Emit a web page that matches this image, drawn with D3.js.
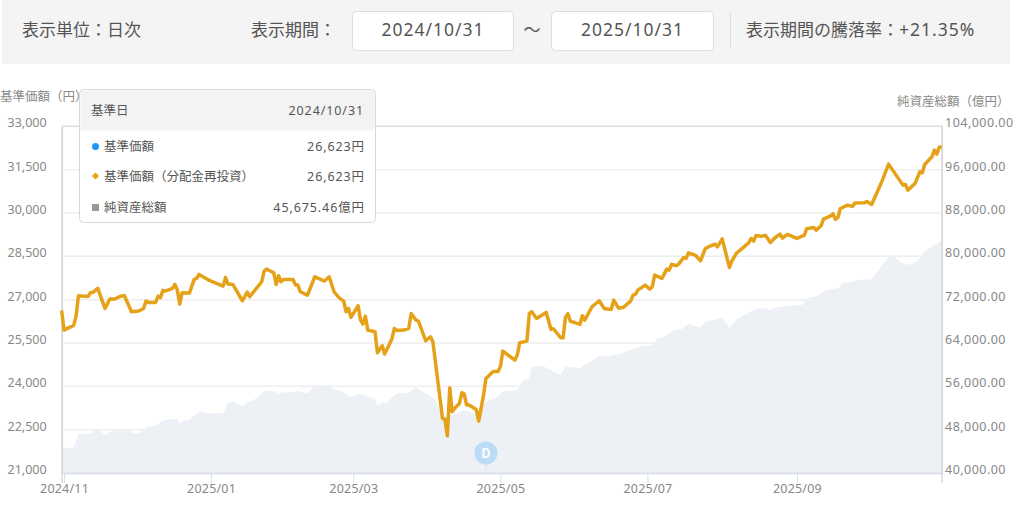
<!DOCTYPE html>
<html><head><meta charset="utf-8">
<script src="https://cdn.jsdelivr.net/npm/d3@7/dist/d3.min.js"></script>
<style>
html,body{margin:0;padding:0;background:#fff;overflow:hidden}
text{font-family:"Noto Sans CJK JP","Noto Sans",sans-serif}
</style></head><body>
<svg id="c" width="1024" height="507"></svg>
<script>
const startDate = "2024-10-31";
const endDate = "2025-10-31";
const priceTicks = [21000,22500,24000,25500,27000,28500,30000,31500,33000];
const assetTicks = [40000,48000,56000,64000,72000,80000,88000,96000,104000];
const monthTicks = ["2024-11-01","2025-01-01","2025-03-01","2025-05-01","2025-07-01","2025-09-01"];
const priceDays = [0,1,5,6,7,11,12,13,15,18,20,22,24,26,29,32,34,35,36,39,40,41,42,43,46,47,48,49,50,53,55,56,57,61,67,68,69,71,75,77,78,83,84,85,88,89,90,91,92,96,97,98,99,102,105,109,111,113,115,117,118,119,120,123,124,125,126,127,130,131,133,134,137,138,139,142,144,145,147,148,151,153,154,156,158,159,160,161,162,163,165,166,167,168,169,172,173,175,176,179,181,182,183,188,189,190,193,194,195,197,201,203,204,207,208,209,210,211,215,216,217,220,223,225,228,229,231,233,236,237,238,239,242,244,245,246,249,251,252,253,255,256,258,259,260,263,265,267,269,271,272,274,277,278,280,281,285,286,287,288,290,292,294,296,298,299,301,305,307,308,309,312,313,315,316,319,320,321,322,323,326,328,329,333,334,336,340,343,349,350,351,354,356,357,358,361,362,363,364,365];
const priceValues = [26623,25946,26108,26431,27135,27112,27250,27250,27389,26696,27019,27019,27100,27146,26581,26604,26696,26950,26904,26904,27123,27066,27320,27296,27389,27527,27331,26846,27239,27227,27700,27735,27873,27677,27469,27770,27539,27527,26962,27262,27100,27620,27989,28058,27931,27527,27827,27620,27700,27700,27504,27504,27273,27158,27793,27643,27793,27273,27070,26950,26581,26696,26385,26789,26292,26154,26431,25946,25889,25161,25404,25115,25635,26004,25935,25946,26004,26523,26292,26258,25577,25715,25542,24215,22888,22853,22288,23950,23119,23234,23407,23777,23731,23350,23350,23200,22796,23696,24273,24515,24515,24677,25219,24908,25081,25508,25565,26523,26581,26350,26558,25969,25992,25681,25681,26385,26512,26258,26142,26442,26292,26754,26962,26696,26662,26985,26708,26731,26950,27158,27181,27331,27504,27366,27446,27850,27735,28058,28023,28220,28173,28240,28460,28425,28621,28529,28344,28771,28852,28921,28829,29106,28114,28333,28621,28679,28967,29117,29025,29221,29198,29221,28979,29152,29268,29129,29256,29117,29198,29221,29452,29498,29406,29556,29787,29902,29971,29775,29845,30156,30271,30225,30341,30352,30398,30295,31045,31691,30964,30987,30791,31022,31426,31391,31679,31945,32176,32037,32268,32307];
const assetDays = [0,1,5,7,12,15,18,21,28,30,33,35,39,42,48,49,51,53,57,61,67,69,71,75,77,81,84,89,90,91,96,98,102,105,109,111,113,115,118,120,123,126,127,130,131,133,135,138,140,144,147,149,153,155,157,159,162,164,167,169,172,174,176,180,183,189,191,194,195,200,204,207,209,215,223,226,230,236,240,245,247,250,254,257,260,265,267,271,274,277,280,284,288,292,294,297,301,307,310,313,317,322,324,328,331,336,340,343,345,349,352,355,358,362,365];
const assetValues = [45675,44575,44759,47219,47342,48142,47035,47834,47834,47342,47465,48572,48695,49679,50110,49187,49802,49802,51340,51032,51032,52877,53307,52262,52999,53800,55214,55030,54537,54845,54968,55152,54722,56260,56075,56321,55460,55337,54599,53984,54599,54414,54107,53615,52446,53000,52877,54414,54722,54845,55829,55214,54107,53492,51647,50417,50724,51032,51647,51340,50724,51955,53184,53800,55030,55337,56874,57489,59642,59642,58720,58105,59642,59335,61610,61487,61795,62717,63455,63640,64870,65177,66284,66530,67464,66910,67956,68263,68755,66725,68386,69370,70293,70416,70046,70600,70846,71030,72383,72568,73798,74105,75028,75335,75643,75766,78103,79948,79948,78718,78410,79148,80870,82100,82838];
const tipRows = [["基準価額","26,623円"],["基準価額（分配金再投資）","26,623円"],["純資産総額","45,675.46億円"]];

const L=61.6,R=941.6,T=126.3,B=473;
const svg=d3.select("#c");
const x=d3.scaleUtc().domain([new Date(startDate),new Date(endDate)]).range([L,R]);
const yP=d3.scaleLinear().domain([21000,33000]).range([B,T]);
const yA=d3.scaleLinear().domain([40000,104000]).range([B,T]);
const day=d=>d3.utcDay.offset(new Date(startDate),d);
const grey="#555";
const latin='"Noto Sans","Noto Sans CJK JP",sans-serif';

// header band
svg.append("rect").attr("x",2).attr("y",0).attr("width",1008).attr("height",64).attr("fill","#f4f4f4");
const box=(bx,w)=>svg.append("rect").attr("x",bx+.5).attr("y",11.5).attr("width",w).attr("height",39).attr("rx",4).attr("fill","#fff").attr("stroke","#ddd");
box(352,161);box(551,162);
svg.append("line").attr("x1",730.5).attr("x2",730.5).attr("y1",13).attr("y2",48).attr("stroke","#ddd");
const hd=(t,px,anc)=>svg.append("text").attr("x",px).attr("y",36).attr("font-size",17).attr("fill",grey).attr("text-anchor",anc||"start").text(t);
const hdNum=(t,px,py,anc)=>svg.append("text").attr("x",px).attr("y",py||36).attr("font-size",17.5).attr("letter-spacing",1).style("font-family",latin).attr("fill",grey).attr("text-anchor",anc||"start").text(t);
hd("表示単位：日次",22);hd("表示期間：",251);
hdNum("2024/10/31",433,36,"middle");
hd("～",532,"middle");
hdNum("2025/10/31",632.5,36,"middle");
hd("表示期間の騰落率：",746);
hdNum("+21.35%",899,36);

// grid
svg.append("g").selectAll("line").data(priceTicks.slice(1,-1)).join("line")
 .attr("x1",L).attr("x2",R).attr("y1",d=>yP(d)).attr("y2",d=>yP(d)).attr("stroke","#eeeeee").attr("stroke-width",1.5);
svg.append("line").attr("x1",L).attr("x2",R+1).attr("y1",T).attr("y2",T).attr("stroke","#dedede").attr("stroke-width",1.5);

// area
const assetPts=assetDays.map((d,i)=>[day(d),assetValues[i]]);
svg.append("path").datum(assetPts).attr("fill","#edf0f5")
 .attr("d",d3.area().x(d=>x(d[0])).y0(B).y1(d=>yA(d[1])));

// axes
const axL=svg.append("g").attr("transform",`translate(${L},0)`).call(d3.axisLeft(yP).tickValues(priceTicks).tickFormat(d3.format(",")).tickSize(0));
const axR=svg.append("g").attr("transform",`translate(${R},0)`).call(d3.axisRight(yA).tickValues(assetTicks).tickFormat(d3.format(",.2f")).tickSize(0));
const axB=svg.append("g").attr("transform",`translate(0,${B})`).call(d3.axisBottom(x).tickValues(monthTicks.map(s=>new Date(s))).tickFormat(d3.utcFormat("%Y/%m")).tickSize(10));
axL.select(".domain").attr("stroke","#d8dbe2").attr("stroke-width",2);
axR.select(".domain").attr("stroke","#dcdcdc").attr("stroke-width",2);
axB.select(".domain").attr("stroke","#d5dbe8").attr("stroke-width",1.5);
axB.selectAll(".tick line").attr("stroke","#d5e0ee");
axL.selectAll("text").attr("x",-15).attr("dy","0.03em").attr("font-size",12.5).attr("fill","#888");
axR.selectAll("text").attr("x",3.5).attr("dy","0.03em").attr("font-size",12.5).attr("letter-spacing",0.45).attr("fill","#888");
axB.selectAll("text").attr("y",11.5).attr("font-size",12.5).attr("letter-spacing",0.2).attr("fill","#888");
[axL,axR,axB].forEach(a=>a.selectAll("text").style("font-family",latin));
svg.append("text").attr("x",0).attr("y",101).attr("font-size",12.5).attr("fill","#888").text("基準価額（円）");
svg.append("text").attr("x",897).attr("y",106).attr("font-size",12.5).attr("fill","#888").text("純資産総額（億円）");

// D flag
const dDay=day(176);
svg.append("line").attr("x1",x(dDay)).attr("x2",x(dDay)).attr("y1",464).attr("y2",B).attr("stroke","#bcdcf5").attr("stroke-dasharray","1 1");
svg.append("circle").attr("cx",x(dDay)).attr("cy",453).attr("r",11.5).attr("fill","#bcdcf5");
svg.append("text").attr("x",x(dDay)).attr("y",457.5).attr("text-anchor","middle").attr("font-size",13).attr("font-weight",700).attr("fill","#fff").text("D");

// price line
const pricePts=priceDays.map((d,i)=>[day(d),priceValues[i]]);
svg.append("path").datum(pricePts).attr("fill","none").attr("stroke","#e5a117").attr("stroke-width",3.5).attr("stroke-linejoin","round")
 .attr("d",d3.line().x(d=>x(d[0])).y(d=>yP(d[1])));

// tooltip
const tg=svg.append("g");
tg.append("rect").attr("x",79.5).attr("y",89.5).attr("width",296).attr("height",133).attr("rx",4).attr("fill","#fff").attr("stroke","#d8d8d8");
tg.append("path").attr("d","M80.5 130.5V93.5a3 3 0 0 1 3-3H371.5a3 3 0 0 1 3 3V130.5Z").attr("fill","#f3f3f3");
const tt=(t,px,py,anc)=>tg.append("text").attr("x",px).attr("y",py).attr("font-size",12.5).attr("fill",grey).attr("text-anchor",anc||"start").text(t);
const tn=(t,px,py)=>tg.append("text").attr("x",px).attr("y",py).attr("font-size",12.5).attr("letter-spacing",0.9).attr("fill",grey).attr("text-anchor","end").style("font-family",latin).text(t);
tt("基準日",91,115);tn("2024/10/31",364,115);
const rowY=[151,181,212];
tipRows.forEach((r,i)=>{tt(r[0],104,rowY[i]);tn(r[1],365,rowY[i]);});
tg.append("circle").attr("cx",95.5).attr("cy",146.5).attr("r",3.5).attr("fill","#2196f3");
tg.append("path").attr("d","M95.5 172.5l3.5 3.5l-3.5 3.5l-3.5-3.5Z").attr("fill","#e5a117");
tg.append("rect").attr("x",92).attr("y",204).attr("width",7).attr("height",7).attr("fill","#999");
</script></body></html>
